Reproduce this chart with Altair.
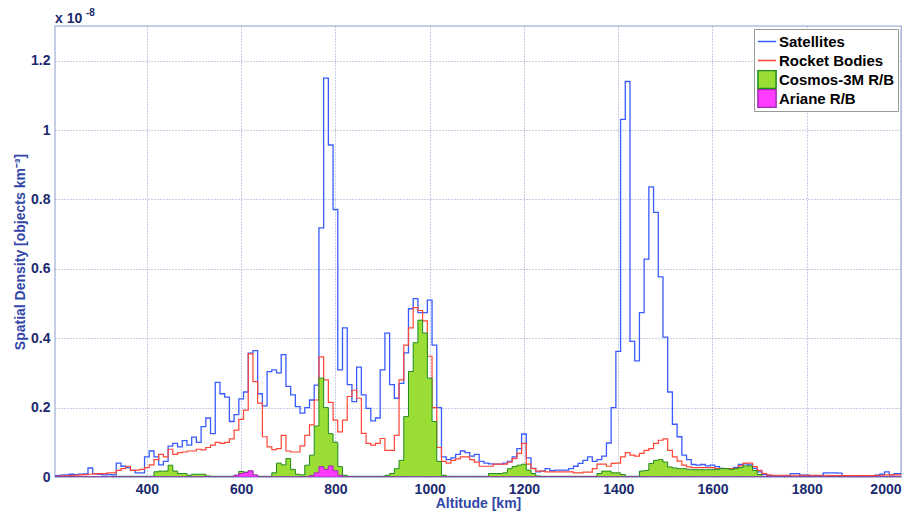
import altair as alt
import pandas as pd

# ---- data (bin centres every 10 km, values in units of 1e-8 objects/km^3) ----
ALTITUDE = list(range(200, 2001, 10))

SATELLITES = [
    0.003, 0.004, 0.005, 0.006, 0.008, 0.007, 0.008, 0.009, 0.026, 0.010,
    0.008, 0.006, 0.007, 0.006, 0.040, 0.031, 0.027, 0.019, 0.012, 0.012,
    0.058, 0.075, 0.058, 0.035, 0.045, 0.089, 0.097, 0.087, 0.105, 0.092,
    0.115, 0.100, 0.145, 0.170, 0.125, 0.273, 0.240, 0.230, 0.160, 0.180,
    0.225, 0.245, 0.357, 0.364, 0.240, 0.205, 0.304, 0.309, 0.300, 0.353,
    0.261, 0.237, 0.203, 0.184, 0.200, 0.222, 0.265, 0.718, 1.150, 0.957,
    0.771, 0.309, 0.430, 0.266, 0.217, 0.317, 0.237, 0.198, 0.162, 0.170,
    0.309, 0.415, 0.266, 0.227, 0.270, 0.358, 0.485, 0.514, 0.474, 0.474,
    0.510, 0.380, 0.200, 0.058, 0.050, 0.055, 0.065, 0.075, 0.070, 0.060,
    0.065, 0.045, 0.040, 0.038, 0.037, 0.037, 0.040, 0.045, 0.058, 0.082,
    0.124, 0.055, 0.025, 0.015, 0.017, 0.024, 0.018, 0.020, 0.020, 0.020,
    0.024, 0.031, 0.039, 0.048, 0.058, 0.045, 0.050, 0.060, 0.098, 0.200,
    0.362, 1.031, 1.140, 0.391, 0.335, 0.474, 0.628, 0.836, 0.763, 0.577,
    0.403, 0.245, 0.152, 0.116, 0.063, 0.050, 0.036, 0.034, 0.036, 0.032,
    0.034, 0.030, 0.025, 0.023, 0.023, 0.028, 0.036, 0.038, 0.035, 0.025,
    0.015, 0.007, 0.004, 0.003, 0.003, 0.003, 0.004, 0.010, 0.010, 0.005,
    0.005, 0.004, 0.004, 0.004, 0.012, 0.012, 0.012, 0.011, 0.004, 0.004,
    0.004, 0.004, 0.004, 0.004, 0.004, 0.005, 0.008, 0.015, 0.006, 0.010,
    0.010,
]

ROCKET_BODIES = [
    0.002, 0.002, 0.003, 0.003, 0.004, 0.005, 0.006, 0.007, 0.008, 0.009,
    0.010, 0.010, 0.012, 0.012, 0.019, 0.024, 0.031, 0.019, 0.020, 0.022,
    0.027, 0.035, 0.050, 0.065, 0.058, 0.080, 0.065, 0.070, 0.072, 0.075,
    0.075, 0.080, 0.078, 0.085, 0.092, 0.100, 0.097, 0.100, 0.110, 0.135,
    0.166, 0.193, 0.355, 0.275, 0.213, 0.116, 0.087, 0.079, 0.082, 0.120,
    0.075, 0.072, 0.072, 0.090, 0.120, 0.150, 0.222, 0.346, 0.280, 0.215,
    0.164, 0.130, 0.164, 0.232, 0.250, 0.227, 0.126, 0.097, 0.092, 0.097,
    0.111, 0.077, 0.077, 0.120, 0.280, 0.380, 0.430, 0.488, 0.480, 0.450,
    0.348, 0.200, 0.085, 0.045, 0.040, 0.048, 0.052, 0.058, 0.058, 0.050,
    0.043, 0.031, 0.031, 0.031, 0.037, 0.037, 0.037, 0.043, 0.053, 0.068,
    0.097, 0.037, 0.024, 0.017, 0.017, 0.015, 0.015, 0.015, 0.015, 0.015,
    0.015, 0.012, 0.012, 0.014, 0.014, 0.024, 0.037, 0.037, 0.031, 0.039,
    0.040, 0.058, 0.070, 0.063, 0.060, 0.068, 0.077, 0.082, 0.097, 0.106,
    0.110, 0.077, 0.058, 0.046, 0.034, 0.029, 0.027, 0.027, 0.027, 0.027,
    0.027, 0.024, 0.024, 0.024, 0.024, 0.025, 0.032, 0.040, 0.040, 0.030,
    0.019, 0.010, 0.006, 0.005, 0.005, 0.005, 0.005, 0.005, 0.005, 0.005,
    0.005, 0.005, 0.005, 0.005, 0.005, 0.004, 0.004, 0.004, 0.004, 0.004,
    0.004, 0.004, 0.004, 0.004, 0.004, 0.005, 0.005, 0.006, 0.006, 0.006,
    0.006,
]

COSMOS_3M = [
    0, 0, 0, 0, 0, 0, 0, 0, 0, 0,
    0, 0, 0, 0.002, 0.002, 0.002, 0.002, 0.002, 0.002, 0.002,
    0.002, 0.002, 0.015, 0.017, 0.017, 0.034, 0.017, 0.010, 0.010, 0.005,
    0.008, 0.008, 0.008, 0.003, 0.002, 0.002, 0.002, 0.002, 0.002, 0.005,
    0.016, 0.014, 0.017, 0.005, 0.002, 0.002, 0.002, 0.012, 0.040, 0.035,
    0.053, 0.022, 0.008, 0.006, 0.034, 0.063, 0.147, 0.285, 0.200, 0.125,
    0.100, 0.030, 0.005, 0.002, 0.002, 0.002, 0.002, 0.002, 0.002, 0.002,
    0.002, 0.005, 0.010, 0.024, 0.048, 0.174, 0.304, 0.387, 0.452, 0.415,
    0.285, 0.160, 0.045, 0.005, 0.002, 0.002, 0.002, 0.002, 0.002, 0.002,
    0.002, 0.002, 0.002, 0.010, 0.010, 0.010, 0.012, 0.024, 0.030, 0.034,
    0.037, 0.020, 0.010, 0.003, 0.002, 0.002, 0.002, 0.002, 0.002, 0.002,
    0.002, 0.002, 0.002, 0.002, 0.002, 0.002, 0.010, 0.017, 0.017, 0.012,
    0.012, 0.007, 0.002, 0.002, 0.002, 0.017, 0.019, 0.039, 0.048, 0.050,
    0.043, 0.029, 0.026, 0.024, 0.024, 0.022, 0.021, 0.021, 0.021, 0.021,
    0.021, 0.022, 0.024, 0.024, 0.022, 0.024, 0.027, 0.032, 0.032, 0.019,
    0.007, 0, 0, 0, 0, 0, 0, 0, 0, 0,
    0, 0, 0, 0, 0, 0, 0, 0, 0, 0,
    0, 0, 0, 0, 0, 0, 0, 0, 0, 0,
    0,
]

ARIANE = [
    0, 0, 0, 0, 0, 0, 0, 0, 0, 0,
    0, 0, 0, 0, 0, 0, 0, 0, 0, 0,
    0, 0, 0, 0, 0, 0, 0, 0, 0, 0,
    0, 0, 0, 0, 0, 0, 0, 0, 0, 0.005,
    0.010, 0.013, 0.018, 0.006, 0, 0, 0, 0, 0, 0,
    0, 0, 0, 0, 0, 0.004, 0.012, 0.030, 0.022, 0.032,
    0.018, 0.005, 0, 0, 0, 0, 0, 0, 0, 0,
    0, 0, 0, 0, 0, 0, 0, 0, 0, 0,
    0, 0, 0, 0, 0, 0, 0, 0, 0, 0,
    0, 0, 0, 0, 0, 0, 0, 0, 0, 0,
    0, 0, 0, 0, 0, 0, 0, 0, 0, 0,
    0, 0, 0, 0, 0, 0, 0, 0, 0, 0,
    0, 0, 0, 0, 0, 0, 0, 0, 0, 0,
    0, 0, 0, 0, 0, 0, 0, 0, 0, 0,
    0, 0, 0, 0, 0, 0, 0, 0, 0, 0,
    0, 0, 0, 0, 0, 0, 0, 0, 0, 0,
    0, 0, 0, 0, 0, 0, 0, 0, 0, 0,
    0, 0, 0, 0, 0, 0, 0, 0, 0, 0,
    0,
]

SERIES = ["Satellites", "Rocket Bodies", "Cosmos-3M R/B", "Ariane R/B"]
FILLS = ["#3a5cff", "#ff4636", "#9ade35", "#ff3cff"]
EDGES = ["#3a5cff", "#ff4636", "#1f8a1f", "#a02cb8"]

X_TICKS = [400, 600, 800, 1000, 1200, 1400, 1600, 1800, 2000]
Y_TICKS = [0, 0.2, 0.4, 0.6, 0.8, 1.0, 1.2]
SCALE_TEXT = ["x 10"]
SCALE_EXP = ["-8"]

rows = []
for name, vals in zip(SERIES, [SATELLITES, ROCKET_BODIES, COSMOS_3M, ARIANE]):
    assert len(vals) == len(ALTITUDE), name
    for a, v in zip(ALTITUDE, vals):
        rows.append({"alt": a, "dens": v, "series": name})
df = pd.DataFrame(rows)

FONT = "Liberation Sans"
NAVY = "#1b2a6e"
TITLE_BLUE = "#3246a8"
GRID = "#8e9acb"

xenc = alt.X(
    "alt:Q",
    scale=alt.Scale(domain=[205, 2000], nice=False, zero=False),
    axis=alt.Axis(values=X_TICKS, title="Altitude [km]", format="d", titlePadding=0),
)
yenc = alt.Y(
    "dens:Q",
    scale=alt.Scale(domain=[0, 1.3], nice=False),
    axis=alt.Axis(values=Y_TICKS, format="~g", title="Spatial Density [objects km⁻³]", titlePadding=3),
)

base = alt.Chart(df)


def step_line(name, color, width):
    return base.transform_filter(alt.datum.series == name).mark_line(
        interpolate="step", clip=True, color=color, strokeWidth=width
    ).encode(x=xenc, y=yenc)


def step_area(name, fill, edge):
    return base.transform_filter(alt.datum.series == name).mark_area(
        interpolate="step", clip=True, fill=fill, stroke=edge, strokeWidth=1, fillOpacity=1
    ).encode(x=xenc, y=yenc)


sat = step_line("Satellites", FILLS[0], 1.3)
rb = step_line("Rocket Bodies", FILLS[1], 1.2)
cos = step_area("Cosmos-3M R/B", FILLS[2], EDGES[2])
ari = step_area("Ariane R/B", FILLS[3], EDGES[3])

stroke_expr = (
    "datum.value == 'Satellites' ? '%s' : datum.value == 'Rocket Bodies' ? '%s' : "
    "datum.value == 'Cosmos-3M R/B' ? '%s' : '%s'" % tuple(EDGES)
)
shape_expr = "(datum.value == 'Satellites' || datum.value == 'Rocket Bodies') ? 'stroke' : 'square'"

legend_layer = base.mark_point(filled=True, opacity=0).encode(
    x=xenc,
    y=yenc,
    color=alt.Color(
        "series:N",
        scale=alt.Scale(domain=SERIES, range=FILLS),
        legend=alt.Legend(
            title=None,
            orient="top-right",
            offset=3,
            fillColor="white",
            strokeColor="#9a9a9a",
            padding=3,
            cornerRadius=0,
            labelFont=FONT,
            labelFontSize=15,
            labelFontWeight="bold",
            labelColor="black",
            labelOffset=2,
            symbolSize=330,
            symbolStrokeWidth=1.5,
            symbolOpacity=1,
            rowPadding=0,
            clipHeight=19,
            symbolType=alt.ExprRef(shape_expr),
            symbolStrokeColor=alt.ExprRef(stroke_expr),
        ),
    ),
)

scale_txt = alt.Chart(pd.DataFrame({"t": SCALE_TEXT})).mark_text(
    align="left", baseline="alphabetic", font=FONT, fontSize=14, fontWeight="bold", color=NAVY
).encode(x=alt.value(0), y=alt.value(-3), text="t:N")
scale_exp = alt.Chart(pd.DataFrame({"t": SCALE_EXP})).mark_text(
    align="left", baseline="alphabetic", font=FONT, fontSize=10, fontWeight="bold", color=NAVY
).encode(x=alt.value(31), y=alt.value(-10), text="t:N")

chart = (
    alt.layer(legend_layer, sat, rb, cos, ari, scale_txt, scale_exp)
    .properties(
        width=846,
        height=451,
        padding={"left": 47, "top": 18, "right": 12, "bottom": 34},
        autosize=alt.AutoSizeParams(type="none"),
        background="white",
    )
    .configure_view(stroke="#b4bde0", strokeWidth=1.5)
    .configure_axis(
        domain=False,
        ticks=False,
        grid=True,
        gridColor=GRID,
        gridDash=[1, 2],
        gridWidth=1,
        labelFont=FONT,
        labelFontSize=14,
        labelFontWeight="bold",
        labelColor=NAVY,
        labelPadding=5,
        titleFont=FONT,
        titleFontSize=14,
        titleFontWeight="bold",
        titleColor=TITLE_BLUE,
    )
)

chart.save("out.html", embed_options={"renderer": "svg", "actions": False})
